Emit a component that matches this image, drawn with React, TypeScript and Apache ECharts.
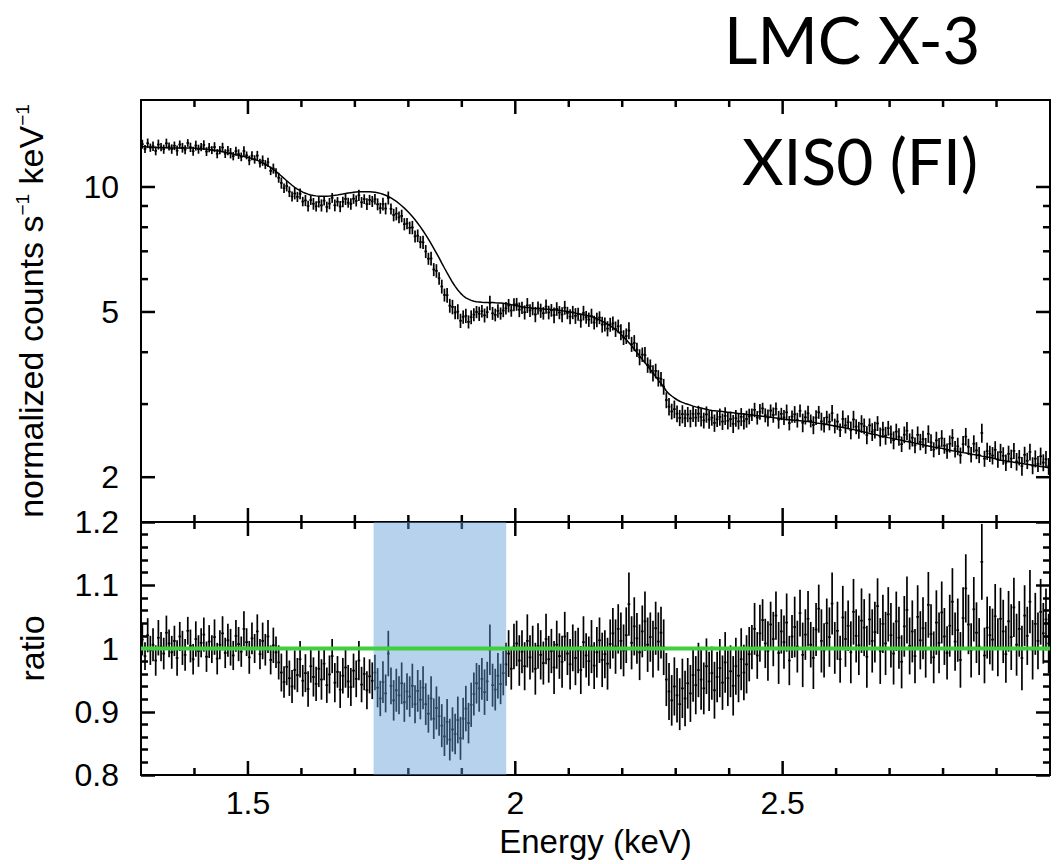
import React, { useEffect, useRef } from "react";
import * as echarts from "echarts";

// Spectral channels: 0.005 keV bins starting at 1.30 keV
const BIN_START = 1.3;
const BIN_WIDTH = 0.005;

// Best-fit continuum model (counts s^-1 keV^-1) per channel
const modelCounts = [
  12.505, 12.495, 12.485, 12.475, 12.465, 12.455, 12.444, 12.436, 12.433, 12.428,
  12.421, 12.419, 12.42, 12.42, 12.42, 12.42, 12.421, 12.419, 12.414, 12.406,
  12.396, 12.384, 12.369, 12.351, 12.331, 12.309, 12.284, 12.256, 12.226, 12.194,
  12.159, 12.121, 12.08, 12.04, 12.0, 11.96, 11.92, 11.88, 11.841, 11.799,
  11.755, 11.705, 11.651, 11.589, 11.52, 11.44, 11.35, 11.25, 11.139, 11.021,
  10.895, 10.765, 10.628, 10.493, 10.355, 10.225, 10.096, 9.984, 9.884, 9.796,
  9.721, 9.659, 9.61, 9.57, 9.541, 9.519, 9.504, 9.496, 9.498, 9.503,
  9.513, 9.528, 9.549, 9.571, 9.598, 9.623, 9.649, 9.671, 9.691, 9.709,
  9.725, 9.735, 9.739, 9.741, 9.743, 9.738, 9.729, 9.711, 9.688, 9.653,
  9.608, 9.553, 9.488, 9.413, 9.328, 9.233, 9.126, 9.014, 8.894, 8.766,
  8.631, 8.489, 8.339, 8.181, 8.015, 7.845, 7.67, 7.49, 7.303, 7.118,
  6.933, 6.748, 6.559, 6.381, 6.21, 6.05, 5.896, 5.764, 5.649, 5.551,
  5.471, 5.409, 5.368, 5.333, 5.309, 5.291, 5.284, 5.276, 5.271, 5.269,
  5.271, 5.269, 5.263, 5.258, 5.254, 5.246, 5.236, 5.224, 5.208, 5.193,
  5.178, 5.163, 5.146, 5.134, 5.125, 5.115, 5.104, 5.096, 5.093, 5.088,
  5.083, 5.078, 5.073, 5.068, 5.064, 5.056, 5.045, 5.035, 5.026, 5.014,
  4.998, 4.983, 4.968, 4.953, 4.938, 4.923, 4.909, 4.891, 4.873, 4.848,
  4.816, 4.784, 4.749, 4.711, 4.671, 4.629, 4.585, 4.535, 4.48, 4.42,
  4.354, 4.286, 4.216, 4.144, 4.068, 3.993, 3.916, 3.844, 3.775, 3.705,
  3.635, 3.565, 3.494, 3.426, 3.363, 3.298, 3.226, 3.174, 3.138, 3.103,
  3.073, 3.048, 3.029, 3.011, 2.998, 2.983, 2.966, 2.954, 2.945, 2.935,
  2.925, 2.915, 2.904, 2.896, 2.893, 2.888, 2.883, 2.878, 2.873, 2.868,
  2.863, 2.858, 2.853, 2.848, 2.843, 2.838, 2.833, 2.828, 2.823, 2.818,
  2.813, 2.808, 2.803, 2.798, 2.793, 2.788, 2.783, 2.778, 2.773, 2.767,
  2.758, 2.753, 2.752, 2.748, 2.742, 2.738, 2.737, 2.733, 2.728, 2.723,
  2.718, 2.712, 2.703, 2.697, 2.693, 2.687, 2.679, 2.671, 2.664, 2.656,
  2.649, 2.641, 2.634, 2.626, 2.619, 2.611, 2.604, 2.596, 2.584, 2.576,
  2.569, 2.561, 2.549, 2.541, 2.534, 2.526, 2.514, 2.506, 2.499, 2.491,
  2.484, 2.476, 2.469, 2.461, 2.454, 2.446, 2.439, 2.431, 2.424, 2.416,
  2.409, 2.401, 2.394, 2.386, 2.379, 2.371, 2.363, 2.357, 2.353, 2.347,
  2.339, 2.331, 2.323, 2.317, 2.313, 2.307, 2.298, 2.292, 2.288, 2.282,
  2.273, 2.267, 2.263, 2.257, 2.248, 2.242, 2.238, 2.232, 2.224, 2.216,
  2.204, 2.196, 2.193, 2.188, 2.183, 2.178, 2.173, 2.168, 2.163, 2.158,
  2.153, 2.148, 2.143, 2.138, 2.133, 2.128, 2.123, 2.118, 2.113, 2.108,
];

// Data / model ratio per channel
const dataRatio = [
  // 1.30 - 1.555 keV
  1.014, 0.988, 1.021, 0.997, 1.006, 0.981, 1.017, 1.003, 0.992, 1.025,
  1.008, 0.994, 1.012, 0.985, 1.019, 1.001, 0.99, 1.028, 1.004, 0.983,
  1.015, 0.996, 1.009, 1.022, 0.987, 1.011, 0.999, 1.018, 0.984, 1.006,
  1.024, 0.993, 1.013, 1.002, 0.989, 1.02, 1.007, 0.995, 1.031, 1.01,
  0.986, 1.016, 1.0, 1.027, 0.991, 1.012, 0.998, 1.019, 0.982, 1.005,
  0.994,
  // 1.555 - 1.74 keV
  0.978, 0.962, 0.947, 0.971, 0.953, 0.94, 0.966, 0.958, 0.983, 0.949,
  0.961, 0.936, 0.972, 0.955, 0.944, 0.968, 0.951, 0.976, 0.942, 0.959,
  0.988, 0.946, 0.963, 0.935, 0.957, 0.97, 0.948, 0.939, 0.965, 0.952,
  0.981, 0.943, 0.96, 0.934, 0.956, 0.949, 0.962,
  // 1.74 - 1.98 keV (absorption feature)
  0.938, 0.921, 0.947, 0.929, 0.992, 0.941, 0.918, 0.934, 0.926, 0.945, 0.915, 0.932,
  0.924, 0.941, 0.912, 0.933, 0.919, 0.938,
  0.912, 0.897, 0.921, 0.889, 0.906, 0.893,
  0.878, 0.861, 0.884, 0.856, 0.872, 0.865, 0.887, 0.858,
  0.889, 0.905, 0.882, 0.911,
  0.928, 0.945, 0.937, 0.952, 0.931, 0.948, 0.998, 0.942, 0.935, 0.957, 0.944, 0.961,
  0.975, 0.992, 0.968, 1.003,
  // 2.00 - 2.18 keV
  1.008, 0.981, 0.995, 0.972, 1.012, 0.986, 0.999, 0.968, 1.004, 0.99,
  0.977, 1.015, 0.983, 0.996, 0.97, 1.006, 0.988, 0.979, 1.019, 0.992,
  0.975, 1.001, 0.985, 0.997, 0.966, 1.01, 0.989, 0.98, 1.003, 0.973,
  0.994, 1.013, 0.982, 0.991, 0.976, 1.007,
  // 2.18 - 2.28 keV
  1.024, 1.003, 1.031, 1.012, 0.997, 1.021, 1.07, 1.009, 1.035, 1.016,
  0.994, 1.027, 1.043, 1.006, 1.018, 0.999, 1.032, 1.011, 1.025, 1.002,
  // 2.28 - 2.44 keV
  0.951, 0.932, 0.918, 0.94, 0.926, 0.912, 0.937, 0.921, 0.945, 0.929,
  0.958, 0.942, 0.966, 0.951, 0.937, 0.972, 0.948, 0.961, 0.934, 0.955,
  0.969, 0.946, 0.978, 0.953, 0.964, 0.941, 0.972, 0.957, 0.983, 0.962,
  0.975, 0.991,
  // 2.44 - 3.00 keV
  1.002, 1.031, 0.989, 1.024, 1.045, 1.008, 0.996, 1.038, 1.015, 1.052,
  0.993, 1.027, 1.01, 1.041, 0.981, 1.019, 1.034, 1.003, 1.056, 0.99,
  1.022, 1.047, 1.006, 0.985, 1.03, 1.063, 1.012, 0.997, 1.04, 1.018,
  1.071, 1.001, 1.028, 0.983, 1.049, 1.015, 1.036, 0.994, 1.058, 1.02,
  1.005, 1.044, 1.033, 0.987, 1.046, 1.012, 1.026, 1.067, 0.996, 1.039,
  1.008, 1.054, 1.021, 0.992, 1.043, 1.017, 0.979, 1.035, 1.061, 1.004,
  1.027, 0.988, 1.05, 1.013, 1.032, 0.998, 1.069, 1.023, 0.986, 1.041,
  1.009, 1.057, 1.019, 0.993, 1.036, 1.074, 1.011, 1.029, 0.982, 1.048,
  1.095, 1.038, 0.997, 1.062, 1.025, 1.003, 1.137, 0.989, 1.033, 1.021,
  1.014, 1.051, 1.002, 1.047, 1.027, 0.991, 1.043, 1.018, 1.065, 1.006,
  1.031, 0.985, 1.052, 1.02, 1.074, 0.998, 1.039, 1.012, 1.058, 1.024,
  1.046, 1.008,
];

// 1-sigma uncertainty on the ratio per channel
const ratioError = [
  0.025, 0.022, 0.027, 0.023, 0.026, 0.024, 0.028, 0.023, 0.025, 0.027,
  0.022, 0.026, 0.024, 0.028, 0.023, 0.027, 0.025, 0.022, 0.026, 0.024,
  0.028, 0.025, 0.023, 0.027, 0.024, 0.026, 0.022, 0.028, 0.025, 0.023,
  0.027, 0.024, 0.026, 0.029, 0.023, 0.025, 0.027, 0.024, 0.028, 0.022,
  0.026, 0.025, 0.023, 0.027, 0.024, 0.029, 0.025, 0.026, 0.023, 0.028,
  0.025,
  0.027, 0.03, 0.025, 0.029, 0.028, 0.026, 0.031, 0.027, 0.029, 0.025,
  0.03, 0.028, 0.026, 0.031, 0.027, 0.029, 0.032, 0.026, 0.028, 0.03,
  0.027, 0.031, 0.025, 0.029, 0.028, 0.032, 0.026, 0.03, 0.027, 0.029,
  0.031, 0.028, 0.026, 0.03, 0.027, 0.029, 0.028,
  0.031, 0.028, 0.033, 0.03, 0.036, 0.029, 0.032, 0.034, 0.03, 0.033, 0.031, 0.029,
  0.032, 0.035, 0.03, 0.033, 0.031, 0.034,
  0.033, 0.03, 0.035, 0.032, 0.034, 0.031,
  0.034, 0.031, 0.036, 0.033, 0.035, 0.032, 0.037, 0.034,
  0.033, 0.036, 0.032, 0.035,
  0.034, 0.032, 0.037, 0.033, 0.036, 0.031, 0.04, 0.034, 0.033, 0.036, 0.032, 0.035,
  0.034, 0.037, 0.033, 0.036,
  0.036, 0.04, 0.034, 0.038, 0.042, 0.035, 0.037, 0.041, 0.036, 0.039,
  0.034, 0.04, 0.037, 0.035, 0.042, 0.038, 0.036, 0.041, 0.039, 0.034,
  0.04, 0.037, 0.043, 0.036, 0.038, 0.041, 0.035, 0.039, 0.042, 0.037,
  0.04, 0.036, 0.043, 0.038, 0.041, 0.039,
  0.04, 0.043, 0.039, 0.045, 0.041, 0.044, 0.05, 0.042, 0.046, 0.04,
  0.044, 0.041, 0.047, 0.043, 0.039, 0.045, 0.042, 0.046, 0.041, 0.044,
  0.042, 0.045, 0.04, 0.046, 0.043, 0.041, 0.047, 0.044, 0.04, 0.045,
  0.042, 0.046, 0.043, 0.048, 0.041, 0.044, 0.047, 0.042, 0.045, 0.04,
  0.046, 0.043, 0.048, 0.044, 0.041, 0.047, 0.045, 0.042, 0.049, 0.044,
  0.046, 0.043,
  0.035, 0.041, 0.037, 0.045, 0.033, 0.039, 0.047, 0.036, 0.043, 0.038,
  0.049, 0.035, 0.042, 0.046, 0.039, 0.034, 0.048, 0.041, 0.037, 0.051,
  0.04, 0.044, 0.036, 0.049, 0.042, 0.038, 0.05, 0.043, 0.039, 0.047,
  0.049, 0.041, 0.046, 0.037, 0.05, 0.044, 0.04, 0.049, 0.052, 0.042,
  0.047, 0.051, 0.045, 0.049, 0.041, 0.05, 0.048, 0.044, 0.052, 0.046,
  0.05, 0.043, 0.051, 0.049, 0.047, 0.049, 0.042, 0.048, 0.053, 0.045,
  0.049, 0.043, 0.05, 0.046, 0.049, 0.044, 0.052, 0.047, 0.041, 0.051,
  0.048, 0.049, 0.045, 0.042, 0.049, 0.053, 0.046, 0.05, 0.044, 0.049,
  0.054, 0.047, 0.043, 0.051, 0.048, 0.045, 0.06, 0.044, 0.049, 0.046,
  0.049, 0.051, 0.046, 0.049, 0.05, 0.045, 0.048, 0.052, 0.047, 0.049,
  0.044, 0.051, 0.048, 0.046, 0.05, 0.047, 0.049, 0.045, 0.052, 0.048,
  0.049, 0.047,
];

// Axis ranges and ticks
const energyRange = [1.3, 3.0];
const countRange = [1.56, 16.2];
const ratioRange = [0.8, 1.2];
const unityRatio = 1;
const absorptionBand = [1.735, 1.983];

const energyLabels = [1.5, 2, 2.5];
const energyMajorTicks = [1.5, 2, 2.5];
const energyMinorTicks = [1.4, 1.6, 1.7, 1.8, 1.9, 2.1, 2.2, 2.3, 2.4, 2.6, 2.7, 2.8, 2.9];
const countLabels = [2, 5, 10];
const countMajorTicks = [2, 5, 10];
const countMinorTicks = [3, 4, 6, 7, 8, 9];

const TITLE = "LMC X-3";
const SUBTITLE = "XIS0 (FI)";

const FONT = '"Liberation Sans", Arial, Helvetica, sans-serif';
const TITLE_FONT = 'Lato, "Open Sans", sans-serif';
const MAJOR_LEN = 14;
const MINOR_LEN = 7;
const TICK_WIDTH = 2.5;

const lg = Math.log10;

const energies = dataRatio.map((_, i) => BIN_START + BIN_WIDTH * (i + 0.5));
const counts = dataRatio.map((r, i) => r * modelCounts[i]);
const countErr = ratioError.map((e, i) => e * modelCounts[i]);

// counts are placed on a log10 value axis so it can carry 2-3-4-5... ticks
const spectrumPoints = energies.map((e, i) => [
  e,
  lg(counts[i]),
  lg(counts[i] - countErr[i]),
  lg(counts[i] + countErr[i]),
]);
const modelPoints = energies.map((e, i) => [e, lg(modelCounts[i])]);
const ratioPoints = energies.map((e, i) => [
  e,
  dataRatio[i],
  dataRatio[i] - ratioError[i],
  dataRatio[i] + ratioError[i],
]);

const errorBarItem = (_params: any, api: any) => {
  const e = api.value(0);
  const c = api.coord([e, api.value(1)]);
  const lo = api.coord([e, api.value(2)]);
  const hi = api.coord([e, api.value(3)]);
  const l = api.coord([e - BIN_WIDTH / 2, api.value(1)]);
  const r = api.coord([e + BIN_WIDTH / 2, api.value(1)]);
  return {
    type: "group",
    children: [
      { type: "line", shape: { x1: lo[0], y1: lo[1], x2: hi[0], y2: hi[1] }, style: { stroke: "#000", lineWidth: 1.7 } },
      { type: "line", shape: { x1: l[0], y1: c[1], x2: r[0], y2: c[1] }, style: { stroke: "#000", lineWidth: 1.7 } },
    ],
  };
};

const frameLine = () => ({ show: true, onZero: false, lineStyle: { color: "#000", width: 2 } });

const baseX = (gridIndex: number, position: string) => ({
  type: "value",
  gridIndex,
  position,
  min: energyRange[0],
  max: energyRange[1],
  axisLine: frameLine(),
  axisTick: { show: false },
  axisLabel: { show: false },
  splitLine: { show: false },
});

const ratioY = (position: string) => ({
  type: "value",
  gridIndex: 1,
  position,
  min: ratioRange[0],
  max: ratioRange[1],
  interval: 0.1,
  axisLine: frameLine(),
  axisTick: { show: true, inside: true, length: MAJOR_LEN, lineStyle: { color: "#000", width: TICK_WIDTH } },
  minorTick: { show: true, splitNumber: 5, length: MINOR_LEN, lineStyle: { color: "#000", width: TICK_WIDTH } },
  splitLine: { show: false },
});

export default function App() {
  const ref = useRef<HTMLDivElement>(null);

  useEffect(() => {
    if (!ref.current) return;
    const chart = echarts.init(ref.current, null, { renderer: "svg" });

    const cLo = lg(countRange[0]);
    const cHi = lg(countRange[1]);

    chart.setOption({
      animation: false,
      grid: [
        { left: 141, top: 100, width: 909, height: 422 },
        { left: 141, top: 522, width: 909, height: 253 },
      ],
      xAxis: [
        baseX(0, "bottom"),
        {
          ...baseX(1, "bottom"),
          interval: 0.1,
          axisLabel: {
            show: true,
            margin: 12,
            color: "#000",
            fontSize: 32,
            fontFamily: FONT,
            formatter: (v: number) => {
              const hit = energyLabels.find((e) => Math.abs(e - v) < 1e-6);
              return hit === undefined ? "" : String(hit);
            },
          },
          name: "Energy (keV)",
          nameLocation: "middle",
          nameGap: 50,
          nameTextStyle: { color: "#000", fontSize: 33, fontFamily: FONT },
        },
        baseX(0, "top"),
        baseX(1, "top"),
      ],
      yAxis: [
        {
          type: "value",
          gridIndex: 0,
          position: "left",
          min: cLo,
          max: cHi,
          axisLine: frameLine(),
          axisTick: { show: false },
          splitLine: { show: false },
          axisLabel: {
            show: true,
            customValues: countLabels.map(lg),
            margin: 22,
            color: "#000",
            fontSize: 32,
            fontFamily: FONT,
            formatter: (v: number) => String(Math.round(Math.pow(10, v))),
          },
          name: "normalized counts s{sup|\u22121} keV{sup|\u22121}",
          nameLocation: "middle",
          nameGap: 92,
          nameTextStyle: {
            color: "#000",
            fontSize: 34,
            fontFamily: FONT,
            lineHeight: 36,
            rich: {
              sup: { fontSize: 19, fontFamily: FONT, color: "#000", verticalAlign: "top", lineHeight: 36 },
            },
          },
        },
        {
          ...ratioY("left"),
          axisLabel: {
            show: true,
            margin: 22,
            color: "#000",
            fontSize: 32,
            fontFamily: FONT,
            formatter: (v: number) => String(Number(v.toFixed(1))),
          },
          name: "ratio",
          nameLocation: "middle",
          nameGap: 92,
          nameTextStyle: { color: "#000", fontSize: 34, fontFamily: FONT },
        },
        {
          type: "value",
          gridIndex: 0,
          position: "right",
          min: cLo,
          max: cHi,
          axisLine: frameLine(),
          axisTick: { show: false },
          axisLabel: { show: false },
          splitLine: { show: false },
        },
        { ...ratioY("right"), axisLabel: { show: false } },
      ],
      series: [
        {
          name: "spectrum",
          type: "custom",
          xAxisIndex: 0,
          yAxisIndex: 0,
          z: 2,
          encode: { x: 0, y: [1, 2, 3] },
          data: spectrumPoints,
          renderItem: errorBarItem,
        },
        {
          name: "model",
          type: "line",
          xAxisIndex: 0,
          yAxisIndex: 0,
          showSymbol: false,
          symbol: "none",
          clip: false,
          z: 3,
          lineStyle: { color: "#000", width: 1.5 },
          data: modelPoints,
        },
        {
          name: "ratio",
          type: "custom",
          xAxisIndex: 1,
          yAxisIndex: 1,
          z: 2,
          encode: { x: 0, y: [1, 2, 3] },
          data: ratioPoints,
          renderItem: errorBarItem,
        },
        {
          name: "band",
          type: "custom",
          xAxisIndex: 1,
          yAxisIndex: 1,
          z: 3,
          encode: { x: [0, 1] },
          data: [absorptionBand],
          renderItem: (_p: any, api: any) => {
            const p0 = api.coord([api.value(0), ratioRange[1]]);
            const p1 = api.coord([api.value(1), ratioRange[0]]);
            return {
              type: "rect",
              shape: { x: p0[0], y: p0[1], width: p1[0] - p0[0], height: p1[1] - p0[1] },
              style: { fill: "rgba(96,155,215,0.45)" },
            };
          },
        },
        {
          name: "unity",
          type: "line",
          xAxisIndex: 1,
          yAxisIndex: 1,
          showSymbol: false,
          symbol: "none",
          clip: false,
          z: 4,
          lineStyle: { color: "#3fcf3f", width: 4 },
          data: [
            [energyRange[0], unityRatio],
            [energyRange[1], unityRatio],
          ],
        },
      ],
    });

    // Inward frame ticks, mirrored on opposite edges; positions come from each panel's axes.
    const px = (grid: number, x: number, y: number) =>
      chart.convertToPixel({ gridIndex: grid }, [x, y]) as number[];
    const ticks: any[] = [];
    const line = (x1: number, y1: number, x2: number, y2: number) =>
      ticks.push({ type: "line", shape: { x1, y1, x2, y2 }, style: { stroke: "#000", lineWidth: TICK_WIDTH } });
    const energyTicks = (grid: number, yLo: number, yHi: number) => {
      const add = (values: number[], len: number) =>
        values.forEach((v) => {
          const b = px(grid, v, yLo);
          const t = px(grid, v, yHi);
          line(b[0], b[1], b[0], b[1] - len);
          line(t[0], t[1], t[0], t[1] + len);
        });
      add(energyMajorTicks, MAJOR_LEN);
      add(energyMinorTicks, MINOR_LEN);
    };
    const countTicks = (values: number[], len: number) =>
      values.forEach((v) => {
        const l = px(0, energyRange[0], lg(v));
        const r = px(0, energyRange[1], lg(v));
        line(l[0], l[1], l[0] + len, l[1]);
        line(r[0], r[1], r[0] - len, r[1]);
      });
    energyTicks(0, cLo, cHi);
    energyTicks(1, ratioRange[0], ratioRange[1]);
    countTicks(countMajorTicks, MAJOR_LEN);
    countTicks(countMinorTicks, MINOR_LEN);

    chart.setOption({
      graphic: [
        ...ticks,
        {
          type: "text",
          left: 724,
          top: 6,
          style: { text: TITLE, font: `65px ${TITLE_FONT}`, fill: "#000" },
        },
        {
          type: "text",
          left: 742,
          top: 128,
          style: { text: SUBTITLE, font: `64px ${TITLE_FONT}`, fill: "#000" },
        },
      ],
    });

    return () => chart.dispose();
  }, []);

  return (
    <div
      ref={ref}
      style={{ position: "absolute", left: 0, top: 0, width: 1059, height: 864, background: "#fff" }}
    />
  );
}
